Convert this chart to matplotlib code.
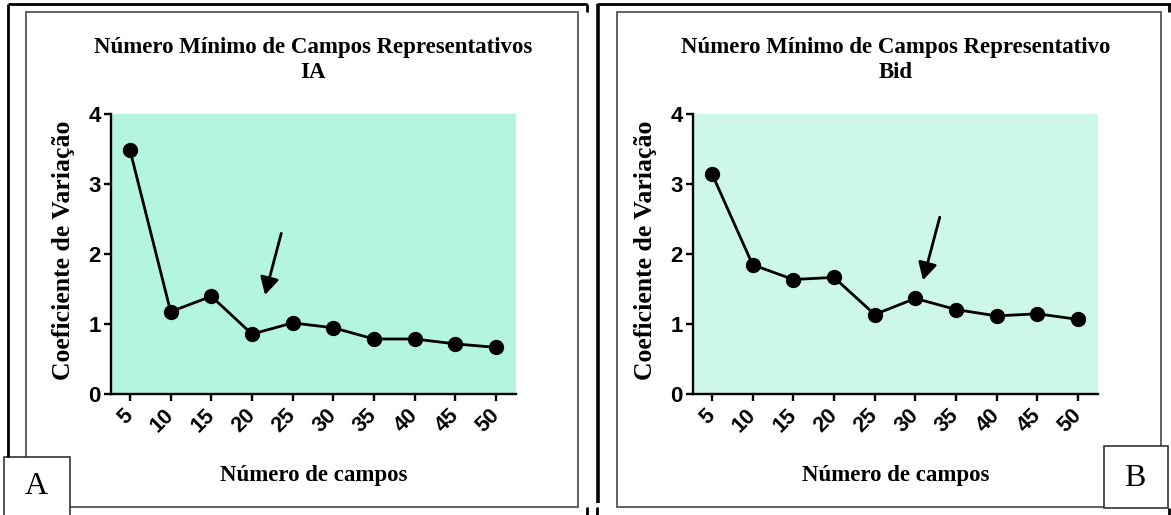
import matplotlib
matplotlib.use('Agg')
import matplotlib.pyplot as plt
from matplotlib.patches import Rectangle

# dados dos dois graficos
campos = [5, 10, 15, 20, 25, 30, 35, 40, 45, 50]
cv_ia = [3.49, 1.18, 1.40, 0.86, 1.02, 0.95, 0.79, 0.79, 0.72, 0.67]
cv_bid = [3.15, 1.85, 1.64, 1.67, 1.14, 1.37, 1.21, 1.12, 1.15, 1.07]
y_ticks = [0, 1, 2, 3, 4]

W, H = 1171, 515
SERIF = 'Liberation Serif'
SANS = 'Liberation Sans'

fig = plt.figure(figsize=(W / 100, H / 100), dpi=100)

# camada de fundo em coordenadas de pixel para molduras e textos
bg = fig.add_axes([0, 0, 1, 1], zorder=-1)
bg.set_xlim(0, W)
bg.set_ylim(H, 0)
bg.axis('off')


def linha(xs, ys, cor='black', lw=2.0):
    bg.plot(xs, ys, color=cor, lw=lw, solid_capstyle='butt')


def caixa(x0, y0, x1, y1, cor='#555555', lw=1.3, face='none'):
    bg.add_patch(Rectangle((x0, y0), x1 - x0, y1 - y0, fill=face != 'none',
                           facecolor=face, edgecolor=cor, lw=lw))


# molduras externas (pretas) e internas (cinza)
linha([8, 587], [4, 4])
linha([8, 8], [4, 457])
linha([587, 587], [4, 12])
linha([587, 587], [507, 515])
linha([598, 598], [4, 503], lw=2.6)
linha([597, 1171], [4, 4])
linha([597, 597], [507, 515])
linha([1169, 1169], [4, 12])
linha([1169, 1169], [508, 515])
caixa(26, 12, 578, 507)
caixa(617, 12, 1161, 507)

# caixas com as letras dos paineis
caixa(4, 457, 70, 520, cor='#333333', lw=1.2, face='white')
bg.text(36, 487, 'A', fontsize=23, family=SERIF, ha='center', va='center')
caixa(1104, 446, 1168, 508, cor='#333333', lw=1.2, face='white')
bg.text(1135, 478, 'B', fontsize=23, family=SERIF, ha='center', va='center')


def painel(x_eixo, valores, titulo, face, seta):
    ax_w, ax_h = 405.3, 280.0
    ax = fig.add_axes([x_eixo / W, (H - 394.3) / H, ax_w / W, ax_h / H])
    ax.set_facecolor(face)
    ax.plot(campos, valores, color='black', lw=2.0, marker='o',
            markersize=10, markerfacecolor='black', markeredgecolor='black')
    ax.set_xlim(2.63, 52.45)
    ax.set_ylim(0, 4)
    ax.set_xticks(campos)
    ax.set_yticks(y_ticks)
    ax.set_xticklabels([str(c) for c in campos], rotation=45, ha='right',
                       va='center', rotation_mode='anchor',
                       fontsize=15.5, fontweight='bold', family=SANS)
    ax.set_yticklabels([str(v) for v in y_ticks], fontsize=16,
                       fontweight='bold', family=SANS)
    for s in ['top', 'right']:
        ax.spines[s].set_visible(False)
    for s in ['left', 'bottom']:
        ax.spines[s].set_linewidth(1.7)
    ax.tick_params(axis='both', direction='out', length=5, width=1.7)
    ax.tick_params(axis='x', pad=8)
    ax.tick_params(axis='y', pad=2)

    # seta indicando o numero minimo de campos
    ax.annotate('', xy=seta[1], xytext=seta[0],
                arrowprops=dict(arrowstyle='-|>,head_length=0.55,head_width=0.3',
                                mutation_scale=19, lw=2, color='black',
                                shrinkA=0, shrinkB=0))

    cx = x_eixo + ax_w / 2
    bg.text(cx, 47, titulo[0], fontsize=16.5, fontweight='bold', family=SERIF,
            ha='center', va='center')
    bg.text(cx, 73, titulo[1], fontsize=16.5, fontweight='bold', family=SERIF,
            ha='center', va='center')
    bg.text(cx, 475, 'Número de campos', fontsize=16.5, fontweight='bold',
            family=SERIF, ha='center', va='center')
    bg.text(x_eixo - 47, 250, 'Coeficiente de Variação', fontsize=18.5,
            fontweight='bold', family=SERIF, rotation=90,
            ha='center', va='center')
    return ax


painel(110.7, cv_ia, ['Número Mínimo de Campos Representativos', 'IA'],
       '#b3f5de', [(23.6, 2.30), (21.6, 1.42)])
painel(692.7, cv_bid, ['Número Mínimo de Campos Representativo', 'Bid'],
       '#cdf7e6', [(33.0, 2.53), (30.94, 1.63)])

fig.savefig('out.png', dpi=100)
